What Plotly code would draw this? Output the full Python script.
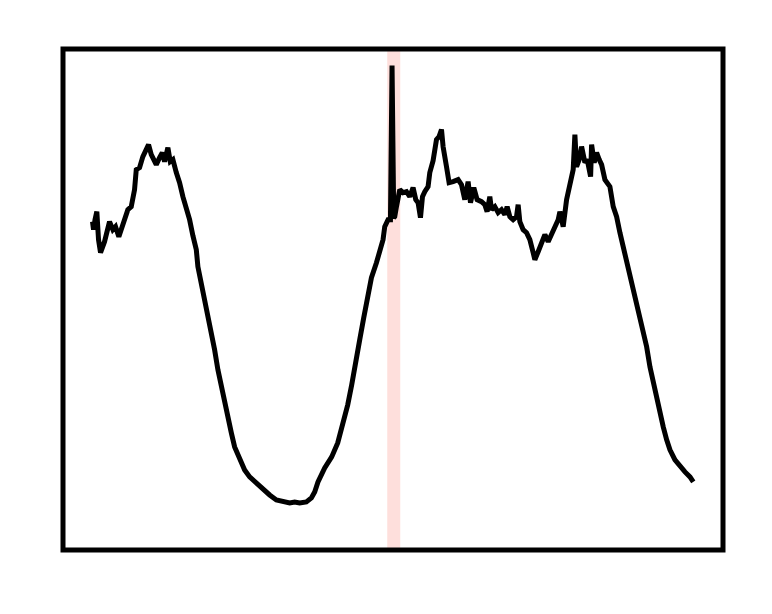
import plotly.graph_objects as go

# sample position
t = [30, 31, 32.5, 34.3, 36, 38, 42, 47, 50.3, 53, 56.3, 58.7, 62, 65.3, 68.7, 72, 73.7, 77, 80.3, 83.7,
     86, 88.7, 93.7, 97, 99.7, 102, 105.3, 107.7, 110.3, 113.7, 117, 120.3, 123.7, 127, 130.3, 133.7, 135.3,
     138.7, 142, 145.3, 148.7, 152, 155.3, 158.7, 162, 165.3, 168.7, 172, 177, 182, 187, 193.7, 200.3, 207,
     213.7, 220.3, 227, 232, 237, 243.7, 248.7, 252, 255.3, 262, 269, 275, 280, 285, 289, 293, 297, 301, 305,
     308.7, 313.7, 317, 320.3, 322, 325.3, 327.7, 329.3, 331, 332, 333.7, 337, 340.3, 343.7, 347, 350.3, 353,
     355.3, 357.7, 359.7, 362, 365.3, 367, 370.3, 373.7, 376.3, 378.7, 380.3, 383.7, 386.3, 390.3, 395.3,
     398.7, 402, 405.3, 407.7, 411, 414.3, 418.7, 422, 424.3, 427, 428.7, 432, 435.3, 438.7, 442, 444.3, 447,
     450.3, 453.7, 455.3, 457, 460.3, 463.7, 467, 470.3, 472, 475.3, 478.7, 482, 485.3, 488.7, 492, 495.3,
     497, 500.3, 503.7, 506.3, 508.7, 510.3, 512, 513.7, 516.3, 518.7, 522, 524.3, 527.7, 528.7, 531.3,
     533.7, 536.3, 538.7, 542, 547, 550.3, 553.7, 557, 560.3, 563.7, 567, 570.3, 573.7, 577, 580.3, 583.7,
     587, 590.3, 593.7, 597, 600.3, 603.7, 607, 612, 617, 622, 627, 630.3]

# signal value
signal = [328, 320, 330, 338, 310, 297, 308, 328, 320, 323, 313, 320, 332, 340, 343, 360, 380, 382, 393, 400,
          405, 395, 385, 392, 397, 388, 402, 388, 390, 377, 367, 353, 343, 330, 314, 300, 283,
          267, 250, 233, 217, 200, 180, 163, 150, 133, 117, 103, 90, 80, 73, 67, 60, 55,
          50, 48, 47, 48, 47, 48, 52, 58, 68, 82, 93, 107, 125, 145, 165, 185, 210, 232, 255,
          272, 287, 300, 310, 323, 330, 330, 484, 332, 333, 343, 360, 357, 358, 353, 362, 350,
          347, 332, 353, 358, 363, 377, 389, 410, 413, 420, 403, 383, 367, 368, 370,
          365, 350, 368, 347, 362, 350, 348, 345, 338, 353, 340, 343, 337, 340, 335, 343, 333,
          330, 333, 345, 328, 320, 317, 310, 297, 290, 298, 307, 315, 308, 315, 321, 330,
          338, 323, 350, 360, 370, 380, 415, 383, 390, 403, 387, 390, 373, 405, 387,
          397, 390, 385, 370, 363, 343, 333, 317, 303, 290, 273, 257, 243, 230, 217, 203,
          183, 167, 153, 140, 123, 110, 100, 90, 83, 78, 73, 68]

# highlighted interval
band = [324.5, 337.5]

fig = go.Figure()
fig.add_vrect(x0=band[0], x1=band[1], fillcolor="rgba(250,128,114,0.25)", line_width=0, layer="below")
fig.add_trace(go.Scatter(x=t, y=signal, mode="lines",
                         line=dict(color="black", width=5), showlegend=False, hoverinfo="skip"))
fig.add_shape(type="rect", xref="paper", yref="paper", x0=0, y0=0, x1=1, y1=1,
              line=dict(color="black", width=5), layer="above")
fig.update_xaxes(range=[0.5, 660], visible=False, showgrid=False, zeroline=False)
fig.update_yaxes(range=[0, 500.5], visible=False, showgrid=False, zeroline=False)
fig.update_layout(width=772, height=614, margin=dict(l=55, r=57, t=41, b=72),
                  plot_bgcolor="white", paper_bgcolor="white")
fig.write_html("out.html")
